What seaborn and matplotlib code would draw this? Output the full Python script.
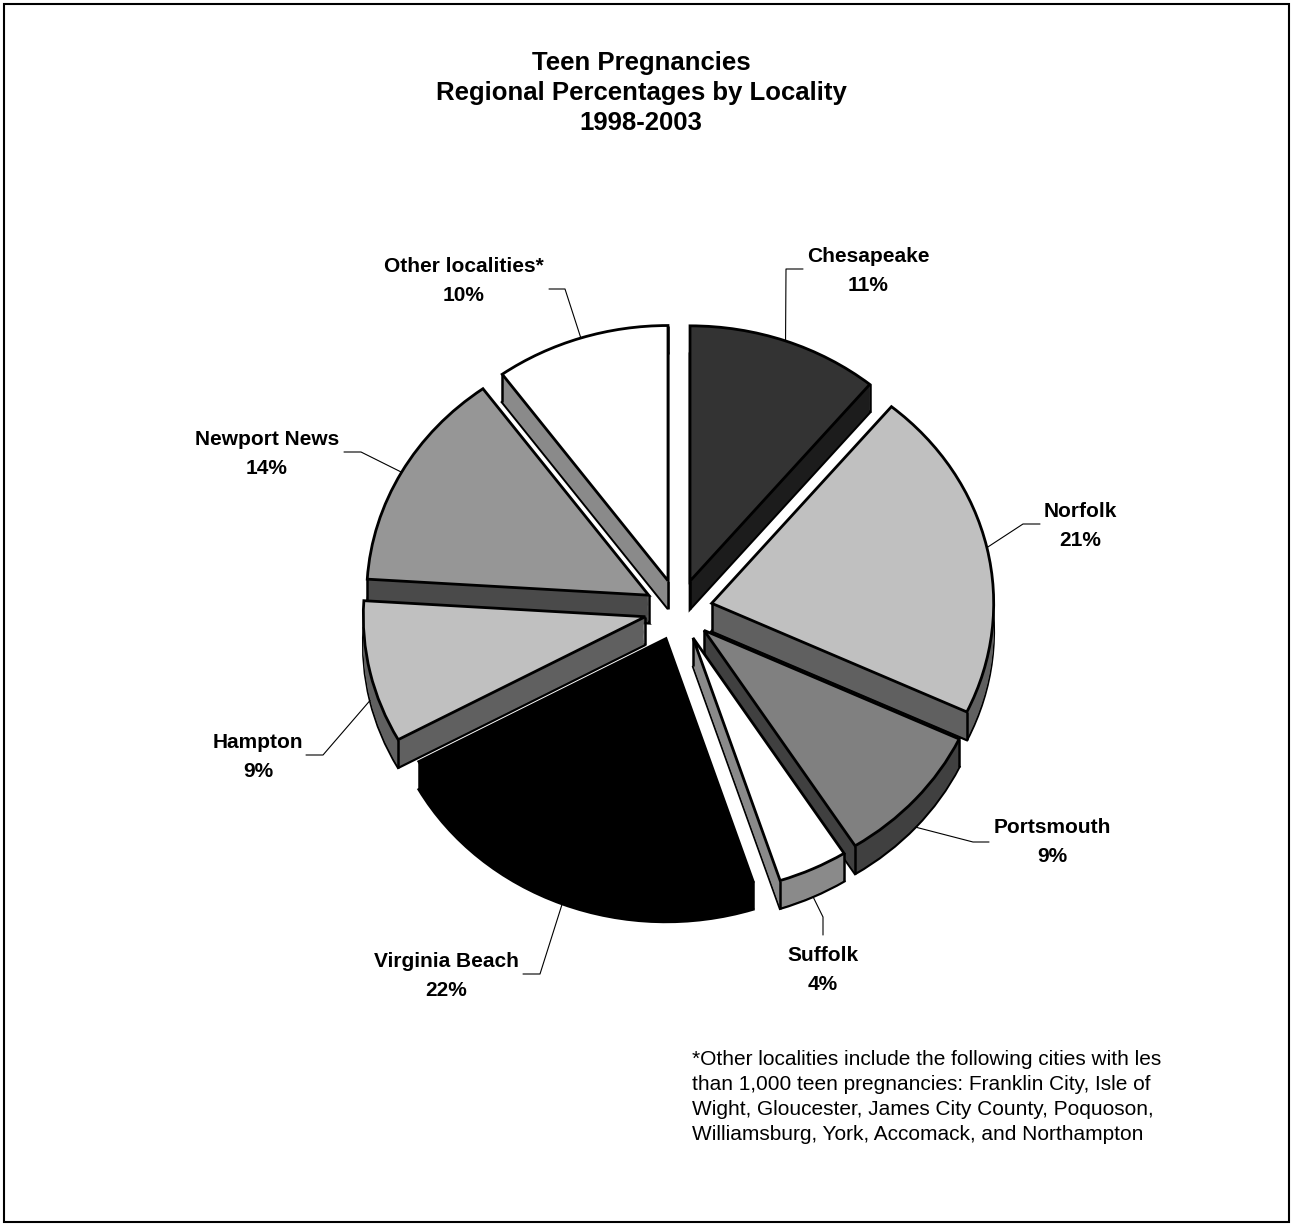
import numpy as np
import matplotlib
matplotlib.use("Agg")
import matplotlib.pyplot as plt
import seaborn as sns
from matplotlib.patches import Rectangle

sns.set_theme(style="white")
plt.rcParams['font.family'] = ['Liberation Sans', 'DejaVu Sans']

# ---------------- data ----------------
localities = ["Chesapeake", "Norfolk", "Portsmouth", "Suffolk",
              "Virginia Beach", "Hampton", "Newport News", "Other localities*"]
percentages = [11, 21, 9, 4, 22, 9, 14, 10]
pct_labels = ["11%", "21%", "9%", "4%", "22%", "9%", "14%", "10%"]
top_colors = ["#333333", "#c0c0c0", "#808080", "#ffffff",
              "#000000", "#c0c0c0", "#969696", "#ffffff"]
side_colors = ["#1c1c1c", "#606060", "#404040", "#8a8a8a",
               "#000000", "#606060", "#4a4a4a", "#8a8a8a"]
title_lines = ["Teen Pregnancies", "Regional Percentages by Locality", "1998-2003"]
footnote_lines = [
    "*Other localities include the following cities with les",
    "than 1,000 teen pregnancies: Franklin City, Isle of",
    "Wight, Gloucester, James City County, Poquoson,",
    "Williamsburg, York, Accomack, and Northampton",
]

# ---------------- layout ----------------
W, H = 1293, 1226
K = 0.905            # vertical squash of the tilted pie
CX, CY = 678.5, 610  # pie centre in pixels
R = 282
DEPTH = 28           # extrusion depth in pixels
EXPL = 34

# label positions (pixel, x centre, name baseline, pct baseline)
label_pos = {
    "Chesapeake": (868, 262, 291),
    "Norfolk": (1080, 517, 546),
    "Portsmouth": (1052, 833, 862),
    "Suffolk": (823, 961, 990),
    "Virginia Beach": (446, 967, 996),
    "Hampton": (258, 748, 777),
    "Newport News": (267, 445, 474),
    "Other localities*": (464, 272, 301),
}
# leader elbows and ends (pixels)
leader_pts = {
    "Chesapeake": [(786, 269), (803, 269)],
    "Norfolk": [(1023, 524), (1040, 524)],
    "Portsmouth": [(973, 842), (989, 842)],
    "Suffolk": [(823, 917), (823, 935)],
    "Virginia Beach": [(540, 974), (523, 974)],
    "Hampton": [(323, 755), (306, 755)],
    "Newport News": [(361, 452), (344, 452)],
    "Other localities*": [(565, 289), (549, 289)],
}

fig = plt.figure(figsize=(W / 100, H / 100), dpi=100)
ax = fig.add_axes([0, 0, 1, 1])
center = (CX, (H - CY) / K)
depth_d = DEPTH / K
explode = [EXPL] * len(percentages)

fracs = np.array(percentages, dtype=float) / sum(percentages)
cum = np.concatenate([[0], np.cumsum(fracs)])
mids = 90 - 360 * (cum[:-1] + cum[1:]) / 2
order = np.argsort(-np.sin(np.radians(mids)))
rank = np.empty(len(order), dtype=int)
rank[order] = np.arange(len(order))

def pie_layer(dy, colors, ec, lw):
    wedges, _ = ax.pie(percentages, colors=colors, startangle=90,
                       counterclock=False, explode=explode, radius=R,
                       center=(center[0], center[1] - dy),
                       wedgeprops=dict(edgecolor=ec, linewidth=lw))
    return wedges

# bottom layer with outline
wb = pie_layer(depth_d, side_colors, "black", 2.0)
for i, w in enumerate(wb):
    w.set_zorder(10 + rank[i] * 10 + 1)
# body layers
for dy in np.arange(depth_d - 1.0, 0.0, -1.0):
    ws = pie_layer(dy, side_colors, "none", 0)
    for i, w in enumerate(ws):
        w.set_zorder(10 + rank[i] * 10 + 1)
# top faces
wt = pie_layer(0, top_colors, "black", 2.0)
for i, w in enumerate(wt):
    w.set_zorder(10 + rank[i] * 10 + 3)

# vertical edges at visible corners
for i, w in enumerate(wt):
    a1, a2 = w.theta1, w.theta2
    c = np.array(w.center)
    r1, r2 = np.radians(a1), np.radians(a2)
    corners = []
    if np.cos(r1) > 0 or np.cos(r2) < 0:
        corners.append(c)
    if np.cos(r1) > 0 or np.sin(r1) < 0:
        corners.append(c + R * np.array([np.cos(r1), np.sin(r1)]))
    if np.cos(r2) < 0 or np.sin(r2) < 0:
        corners.append(c + R * np.array([np.cos(r2), np.sin(r2)]))
    for p in corners:
        ax.plot([p[0], p[0]], [p[1], p[1] - depth_d], color="black",
                lw=1.8, zorder=10 + rank[i] * 10 + 2, solid_capstyle="butt")

ax.set_xlim(0, W)
ax.set_ylim(0, H / K)
ax.set_aspect("auto")
ax.axis("off")

# overlay axes in pixel coordinates for text
tax = fig.add_axes([0, 0, 1, 1], facecolor="none")
tax.set_xlim(0, W)
tax.set_ylim(H, 0)
tax.axis("off")

def to_px(x, y):
    return x, H - y * K

for i, name in enumerate(localities):
    w = wt[i]
    m = np.radians((w.theta1 + w.theta2) / 2)
    x = w.center[0] + R * np.cos(m)
    y = w.center[1] + R * np.sin(m)
    if np.sin(m) < 0:
        y -= depth_d
    ax_, ay_ = to_px(x, y)
    (ex, ey), (fx, fy) = leader_pts[name]
    tax.plot([ax_, ex, fx], [ay_, ey, fy], color="black", lw=0.8, zorder=50)
    lx, nb, pb = label_pos[name]
    tax.text(lx, nb, name, ha="center", va="baseline", fontsize=15,
             fontweight="bold", color="black")
    tax.text(lx, pb, pct_labels[i], ha="center", va="baseline", fontsize=15,
             fontweight="bold", color="black")

for j, line in enumerate(title_lines):
    tax.text(641, 70 + 30 * j, line, ha="center", va="baseline",
             fontsize=18.5, fontweight="bold", color="black")

for j, line in enumerate(footnote_lines):
    tax.text(692, 1065 + 25 * j, line, ha="left", va="baseline",
             fontsize=15, color="black")

tax.add_patch(Rectangle((4, 4), W - 8, H - 8, fill=False, ec="black", lw=1.5,
                        zorder=60))

fig.savefig("out.png", dpi=100, facecolor="white")
